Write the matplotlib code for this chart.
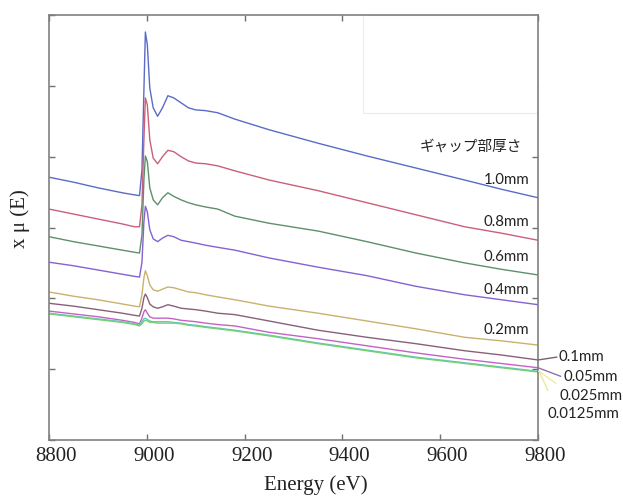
import matplotlib
matplotlib.use("Agg")
import matplotlib.pyplot as plt
from matplotlib.patches import Rectangle
from matplotlib.transforms import ScaledTranslation

# Energy grid (eV) shared by all spectra
energy = [8800, 8850, 8900, 8950, 8975, 8985, 8990, 8994, 8997, 9001,
          9006, 9013, 9022, 9032, 9043, 9055, 9070, 9085, 9100, 9120,
          9145, 9180, 9250, 9350, 9450, 9550, 9650, 9725, 9800]

# x*mu(E) for each gap thickness (arbitrary units, offset by thickness)
mu_1_0 = [3.71, 3.64, 3.56, 3.49, 3.46, 3.45, 3.81, 4.94, 5.76, 5.58,
          4.97, 4.69, 4.57, 4.69, 4.86, 4.83, 4.76, 4.69, 4.66, 4.65,
          4.62, 4.53, 4.38, 4.19, 4.01, 3.84, 3.67, 3.54, 3.42]
mu_0_8 = [3.26, 3.19, 3.12, 3.05, 3.01, 3.01, 3.32, 4.24, 4.83, 4.73,
          4.24, 3.98, 3.90, 4.00, 4.09, 4.07, 4.00, 3.94, 3.91, 3.90,
          3.87, 3.80, 3.67, 3.52, 3.35, 3.18, 3.01, 2.92, 2.82]
mu_0_6 = [2.87, 2.80, 2.74, 2.68, 2.65, 2.64, 2.89, 3.67, 4.01, 3.93,
          3.56, 3.39, 3.32, 3.42, 3.49, 3.44, 3.39, 3.35, 3.32, 3.29,
          3.26, 3.16, 3.06, 2.95, 2.80, 2.64, 2.50, 2.41, 2.33]
mu_0_4 = [2.51, 2.46, 2.40, 2.34, 2.31, 2.30, 2.51, 3.08, 3.30, 3.22,
          2.97, 2.84, 2.80, 2.85, 2.89, 2.87, 2.82, 2.80, 2.78, 2.75,
          2.72, 2.68, 2.57, 2.44, 2.32, 2.17, 2.05, 1.98, 1.91]
mu_0_2 = [2.09, 2.03, 1.98, 1.92, 1.89, 1.88, 2.05, 2.29, 2.39, 2.32,
          2.19, 2.12, 2.10, 2.13, 2.16, 2.15, 2.12, 2.09, 2.08, 2.05,
          2.02, 1.98, 1.89, 1.79, 1.68, 1.57, 1.45, 1.40, 1.34]
mu_0_1 = [1.93, 1.89, 1.84, 1.79, 1.76, 1.75, 1.86, 2.01, 2.06, 2.01,
          1.92, 1.88, 1.86, 1.88, 1.91, 1.89, 1.86, 1.85, 1.84, 1.82,
          1.79, 1.77, 1.68, 1.55, 1.45, 1.36, 1.26, 1.20, 1.13]
mu_0_05 = [1.82, 1.78, 1.74, 1.69, 1.66, 1.64, 1.72, 1.81, 1.84, 1.79,
           1.74, 1.72, 1.72, 1.72, 1.72, 1.71, 1.69, 1.68, 1.67, 1.65,
           1.63, 1.61, 1.52, 1.43, 1.33, 1.23, 1.14, 1.08, 1.02]
mu_0_025 = [1.79, 1.75, 1.71, 1.67, 1.64, 1.62, 1.67, 1.71, 1.72, 1.70,
            1.68, 1.67, 1.67, 1.67, 1.67, 1.66, 1.65, 1.63, 1.62, 1.60,
            1.58, 1.55, 1.48, 1.37, 1.27, 1.17, 1.09, 1.03, 0.97]
mu_0_0125 = [1.78, 1.74, 1.70, 1.66, 1.63, 1.61, 1.64, 1.68, 1.69, 1.68,
             1.66, 1.66, 1.65, 1.65, 1.65, 1.65, 1.64, 1.62, 1.61, 1.59,
             1.57, 1.54, 1.47, 1.36, 1.26, 1.16, 1.08, 1.02, 0.96]

thickness_labels = ["1.0mm", "0.8mm", "0.6mm", "0.4mm", "0.2mm",
                    "0.1mm", "0.05mm", "0.025mm", "0.0125mm"]
series = [mu_1_0, mu_0_8, mu_0_6, mu_0_4, mu_0_2,
          mu_0_1, mu_0_05, mu_0_025, mu_0_0125]
colors = ["#5b6bc6", "#c9607a", "#5f8f6a", "#8462d2", "#c9b26e",
          "#8a6078", "#c462c4", "#62c8c2", "#74d070"]

xticks = [8800, 9000, 9200, 9400, 9600, 9800]

fig = plt.figure(figsize=(6.23, 5.0), dpi=100)
ax = fig.add_axes([0.0787, 0.12, 0.785, 0.85])

for ys, c in zip(series, colors):
    ax.plot(energy, ys, color=c, lw=1.0, zorder=3,
            solid_joinstyle="round")

ax.set_xlim(8800, 9800)
ax.set_ylim(0, 6)
ax.set_xticks(xticks)
ax.set_yticks(range(0, 7))
ax.set_yticklabels([])
ax.tick_params(direction="in", length=4, width=1, color="#707070",
               top=True, right=True, pad=5)
for lab in ax.get_xticklabels():
    lab.set_fontfamily("Liberation Serif")
    lab.set_fontsize(15)
    lab.set_color("#222222")
    lab.set_transform(lab.get_transform() +
                      ScaledTranslation(0.07, 0, fig.dpi_scale_trans))
for sp in ax.spines.values():
    sp.set_color("#808080")
    sp.set_linewidth(1.2)
    sp.set_zorder(5)

# blank panel in the upper-right corner
ax.add_patch(Rectangle((0.641, 0.77), 0.36, 0.231, transform=ax.transAxes,
                       facecolor="white", edgecolor="#ebebeb", lw=0.8,
                       zorder=4))

ax.set_xlabel("Energy (eV)", family="Liberation Serif", fontsize=15,
              color="#222222", labelpad=7)
ax.xaxis.label.set_transform(ax.xaxis.label.get_transform() +
                             ScaledTranslation(0.22, 0, fig.dpi_scale_trans))
ax.text(-0.06, 0.52, "x \u03bc (E)", transform=ax.transAxes, rotation=90,
        ha="center", va="center", family="Liberation Serif", fontsize=15,
        color="#222222")

ax.text(9767, 4.14, "ギャップ部厚さ", family=["Noto Sans CJK JP", "DejaVu Sans"],
        fontsize=10.5, ha="right", va="center", color="#222222", zorder=6)

# labels for the thick gaps sit inside the axes
inside = {"1.0mm": 3.67, "0.8mm": 3.08, "0.6mm": 2.58,
          "0.4mm": 2.12, "0.2mm": 1.55}
for lab in thickness_labels[:5]:
    ax.text(9782, inside[lab], lab, family="Lato", fontsize=10.8,
            ha="right", va="center", color="#222222", zorder=6)

# labels for the thin gaps sit outside the right spine with leaders
outside = [("0.1mm", 9841, 1.17, (9800, 1.13), (9838, 1.17), "#7a6070"),
           ("0.05mm", 9851, 0.89, (9800, 1.02), (9846, 0.90), "#9070b0"),
           ("0.025mm", 9843, 0.62, (9802, 0.97), (9820, 0.70), "#eee79a"),
           ("0.0125mm", 9820, 0.37, (9802, 0.97), (9836, 0.80), "#f2ec9e")]
for lab, tx, ty, p0, p1, lc in outside:
    ax.plot([p0[0], p1[0]], [p0[1], p1[1]], color=lc, lw=1.0,
            clip_on=False, zorder=6)
    ax.text(tx, ty, lab, family="Lato", fontsize=10.8, ha="left",
            va="center", color="#222222", clip_on=False)

fig.savefig("out.png", dpi=100, facecolor="white")
